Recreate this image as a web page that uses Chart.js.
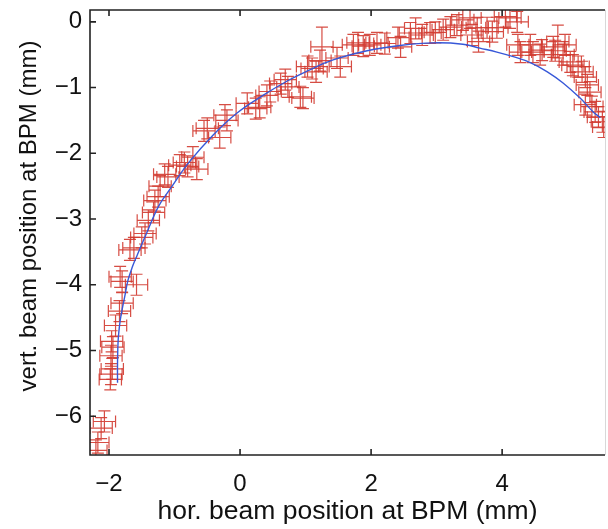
<!DOCTYPE html>
<html>
<head>
<meta charset="utf-8">
<script src="https://cdn.jsdelivr.net/npm/chart.js@4.4.1/dist/chart.umd.min.js"></script>
<style>
  html, body { margin: 0; padding: 0; background: #fff; overflow: hidden; }
  #wrap { width: 608px; height: 529px; }
</style>
</head>
<body>
<div id="wrap"><canvas id="orbit" width="608" height="529"></canvas></div>
<script>
// ----- measured beam positions (mm) -----
const measX = [
  -2.20, -2.17, -2.12, -2.07, -1.98, -1.97, -1.95, -1.97, -1.94, -1.96,
  -1.90, -1.84, -1.80, -1.83, -1.80, -1.58, -1.68, -1.62, -1.50, -1.45,
  -1.40, -1.32, -1.30, -1.25, -1.22, -1.15, -1.10, -0.92, -0.85, -0.80,
  -0.72, -0.66, -0.55, -0.50, -0.31, -0.20, -0.23, 0.11, 0.24, 0.30,
  0.41, 0.46, 0.62, 0.69, 0.73, 0.92, 0.96, 1.03, 1.10, 1.16,
  1.22, 1.25, 1.48, 1.53, 1.73, 1.80, 1.88, 1.98, 2.09, 2.21,
  2.41, 2.45, 2.60, 2.68, 2.78, 2.90, 2.98, 3.10, 3.21, 3.31,
  3.40, 3.51, 3.54, 3.62, 3.64, 3.77, 3.85, 3.92, 4.05, 4.12,
  4.23, 4.24, 4.28, 4.43, 4.47, 4.58, 4.61, 4.78, 4.81, 4.85,
  4.96, 4.93, 5.04, 5.08, 5.16, 5.22, 5.27, 5.30, 5.34, 5.27,
  5.37, 5.42, 5.47, 5.53, 5.55
];
const measY = [
  -6.52, -6.40, -6.18, -6.08, -5.44, -5.36, -5.28, -5.08, -4.95, -4.86,
  -4.62, -4.40, -4.28, -3.88, -3.95, -4.00, -3.47, -3.44, -3.28, -3.22,
  -3.02, -2.90, -2.72, -2.66, -2.50, -2.32, -2.36, -2.18, -2.14, -2.20,
  -2.06, -2.24, -1.66, -1.62, -1.76, -1.50, -1.42, -1.24, -1.32, -1.30,
  -1.12, -1.06, -0.94, -0.88, -0.99, -1.14, -1.16, -0.68, -0.71, -0.76,
  -0.59, -0.38, -0.55, -0.68, -0.35, -0.32, -0.37, -0.35, -0.32, -0.33,
  -0.24, -0.38, -0.17, -0.10, -0.20, -0.17, -0.16, -0.12, -0.08, -0.05,
  0.03, 0.06, -0.20, -0.09, -0.30, -0.09, -0.15, -0.09, 0.08, 0.06,
  0.00, -0.35, -0.46, -0.35, -0.46, -0.50, -0.43, -0.38, -0.44, -0.30,
  -0.35, -0.50, -0.61, -0.66, -0.68, -0.76, -0.84, -0.96, -1.07, -1.26,
  -1.29, -1.37, -1.45, -1.52, -1.60
];
// half widths of the error bars (mm)
const errX = measX.map(() => 0.17);
const errY = [
  0.16, 0.16, 0.16, 0.16, 0.16, 0.16, 0.16, 0.16, 0.16, 0.16,
  0.16, 0.16, 0.16, 0.16, 0.16, 0.16, 0.16, 0.16, 0.16, 0.16,
  0.16, 0.16, 0.16, 0.16, 0.16, 0.16, 0.16, 0.16, 0.16, 0.16,
  0.16, 0.16, 0.16, 0.16, 0.16, 0.16, 0.16, 0.16, 0.16, 0.16,
  0.16, 0.16, 0.16, 0.16, 0.16, 0.16, 0.16, 0.16, 0.16, 0.16,
  0.16, 0.30, 0.16, 0.16, 0.16, 0.16, 0.16, 0.16, 0.16, 0.16,
  0.16, 0.16, 0.16, 0.16, 0.16, 0.16, 0.16, 0.16, 0.16, 0.16,
  0.16, 0.16, 0.16, 0.16, 0.16, 0.16, 0.16, 0.16, 0.16, 0.16,
  0.16, 0.16, 0.16, 0.16, 0.16, 0.16, 0.16, 0.16, 0.16, 0.25,
  0.16, 0.16, 0.16, 0.16, 0.16, 0.16, 0.16, 0.16, 0.16, 0.16,
  0.16, 0.16, 0.16, 0.16, 0.16
];

// ----- fitted orbit (blue curve) -----
const fitX = [
  -1.87, -1.87, -1.86, -1.83, -1.80, -1.76, -1.71, -1.64, -1.57, -1.42,
  -1.24, -1.05, -0.79, -0.41, -0.05, 0.35, 0.72, 1.00, 1.42, 1.94,
  2.44, 2.95, 3.40, 3.66, 3.92, 4.17, 4.43, 4.69, 4.93, 5.19,
  5.39, 5.50
];
const fitY = [
  -5.49, -5.20, -4.84, -4.55, -4.38, -4.18, -3.93, -3.72, -3.55, -3.20,
  -2.80, -2.52, -2.15, -1.72, -1.39, -1.12, -0.90, -0.76, -0.58, -0.44,
  -0.36, -0.32, -0.34, -0.40, -0.46, -0.53, -0.62, -0.76, -0.93, -1.16,
  -1.37, -1.46
];

// ----- axes -----
const xTicks = [-2, 0, 2, 4];
const yTicks = [0, -1, -2, -3, -4, -5, -6];
const X_MIN = -2.29, X_MAX = 5.57;
const Y_MIN = -6.59, Y_MAX = 0.18;
const yTitle = "vert. beam position at BPM (mm)";

const FONT = '"Liberation Sans", Arial, Helvetica, sans-serif';
const RED = "rgba(210,58,48,0.9)";
const minus = (v) => (v < 0 ? "\u2212" + Math.abs(v) : String(v));

// ----- error bar plugin (drawn under the fit line) -----
const errorBars = {
  id: "errorBars",
  beforeDatasetsDraw(chart) {
    const { ctx, chartArea: a, scales: { x, y } } = chart;
    const cap = 6;
    ctx.save();
    ctx.beginPath();
    ctx.rect(a.left, a.top, a.right - a.left, a.bottom - a.top);
    ctx.clip();
    ctx.strokeStyle = RED;
    ctx.lineWidth = 1.2;
    measX.forEach((mx, i) => {
      const my = measY[i];
      const px = x.getPixelForValue(mx), py = y.getPixelForValue(my);
      const x0 = x.getPixelForValue(mx - errX[i]), x1 = x.getPixelForValue(mx + errX[i]);
      const y0 = y.getPixelForValue(my - errY[i]), y1 = y.getPixelForValue(my + errY[i]);
      ctx.beginPath();
      // horizontal bar + caps
      ctx.moveTo(x0, py); ctx.lineTo(x1, py);
      ctx.moveTo(x0, py - cap); ctx.lineTo(x0, py + cap);
      ctx.moveTo(x1, py - cap); ctx.lineTo(x1, py + cap);
      // vertical bar + caps
      ctx.moveTo(px, y0); ctx.lineTo(px, y1);
      ctx.moveTo(px - cap, y0); ctx.lineTo(px + cap, y0);
      ctx.moveTo(px - cap, y1); ctx.lineTo(px + cap, y1);
      ctx.stroke();
    });
    ctx.restore();
  }
};

// ----- box frame with inward ticks (matlab style) + y title -----
const boxFrame = {
  id: "boxFrame",
  afterDraw(chart) {
    const { ctx, chartArea: a, scales: { x, y } } = chart;
    const tl = 6;
    ctx.save();
    ctx.strokeStyle = "#222";
    ctx.lineWidth = 1.6;
    ctx.beginPath();
    ctx.moveTo(a.right, a.top); ctx.lineTo(a.left, a.top);
    ctx.lineTo(a.left, a.bottom); ctx.lineTo(a.right, a.bottom);
    xTicks.forEach((v) => {
      const px = x.getPixelForValue(v);
      ctx.moveTo(px, a.bottom); ctx.lineTo(px, a.bottom - tl);
      ctx.moveTo(px, a.top); ctx.lineTo(px, a.top + tl);
    });
    yTicks.forEach((v) => {
      const py = y.getPixelForValue(v);
      ctx.moveTo(a.left, py); ctx.lineTo(a.left + tl, py);
    });
    ctx.stroke();
    ctx.strokeStyle = "#d8d8d8";
    ctx.lineWidth = 1;
    ctx.beginPath();
    ctx.moveTo(a.right + 0.5, a.top); ctx.lineTo(a.right + 0.5, a.bottom);
    ctx.stroke();

    // y axis title, placed as in the original figure
    ctx.translate(29, 216);
    ctx.rotate(-Math.PI / 2);
    ctx.font = "24px " + FONT;
    ctx.fillStyle = "#111";
    ctx.textAlign = "center";
    ctx.textBaseline = "middle";
    ctx.fillText(yTitle, 0, 0);
    ctx.restore();
  }
};

Chart.register(errorBars, boxFrame);

new Chart(document.getElementById("orbit"), {
  type: "scatter",
  data: {
    datasets: [
      {
        label: "fit",
        data: fitX.map((v, i) => ({ x: v, y: fitY[i] })),
        showLine: true,
        borderColor: "#3758d8",
        borderWidth: 1.4,
        pointRadius: 0,
        tension: 0.4,
        fill: false
      },
      {
        label: "measured",
        data: measX.map((v, i) => ({ x: v, y: measY[i] })),
        pointRadius: 0,
        borderColor: RED
      }
    ]
  },
  options: {
    responsive: false,
    animation: false,
    events: [],
    layout: { padding: { top: 10, right: 3, left: 0, bottom: 0 } },
    plugins: { legend: { display: false }, tooltip: { enabled: false } },
    scales: {
      x: {
        type: "linear",
        min: X_MIN,
        max: X_MAX,
        afterBuildTicks: (s) => { s.ticks = xTicks.map((v) => ({ value: v })); },
        afterFit: (s) => { s.height = 74; s.paddingLeft = 0; s.paddingRight = 0; },
        ticks: {
          callback: (v) => minus(v),
          font: { family: FONT, size: 24 },
          color: "#111",
          padding: 15,
          maxRotation: 0
        },
        grid: { display: false, drawTicks: false },
        border: { display: false },
        title: {
          display: true,
          text: "hor. beam position at BPM (mm)",
          font: { family: FONT, size: 26.5 },
          color: "#111",
          padding: { top: 0, bottom: 1 }
        }
      },
      y: {
        type: "linear",
        min: Y_MIN,
        max: Y_MAX,
        afterBuildTicks: (s) => { s.ticks = yTicks.map((v) => ({ value: v })); },
        afterFit: (s) => { s.width = 90; s.paddingTop = 0; s.paddingBottom = 0; },
        ticks: {
          callback: (v) => minus(v),
          font: { family: FONT, size: 24 },
          color: "#111",
          padding: 8
        },
        grid: { display: false, drawTicks: false },
        border: { display: false },
        title: { display: false }
      }
    }
  }
});
</script>
</body>
</html>
